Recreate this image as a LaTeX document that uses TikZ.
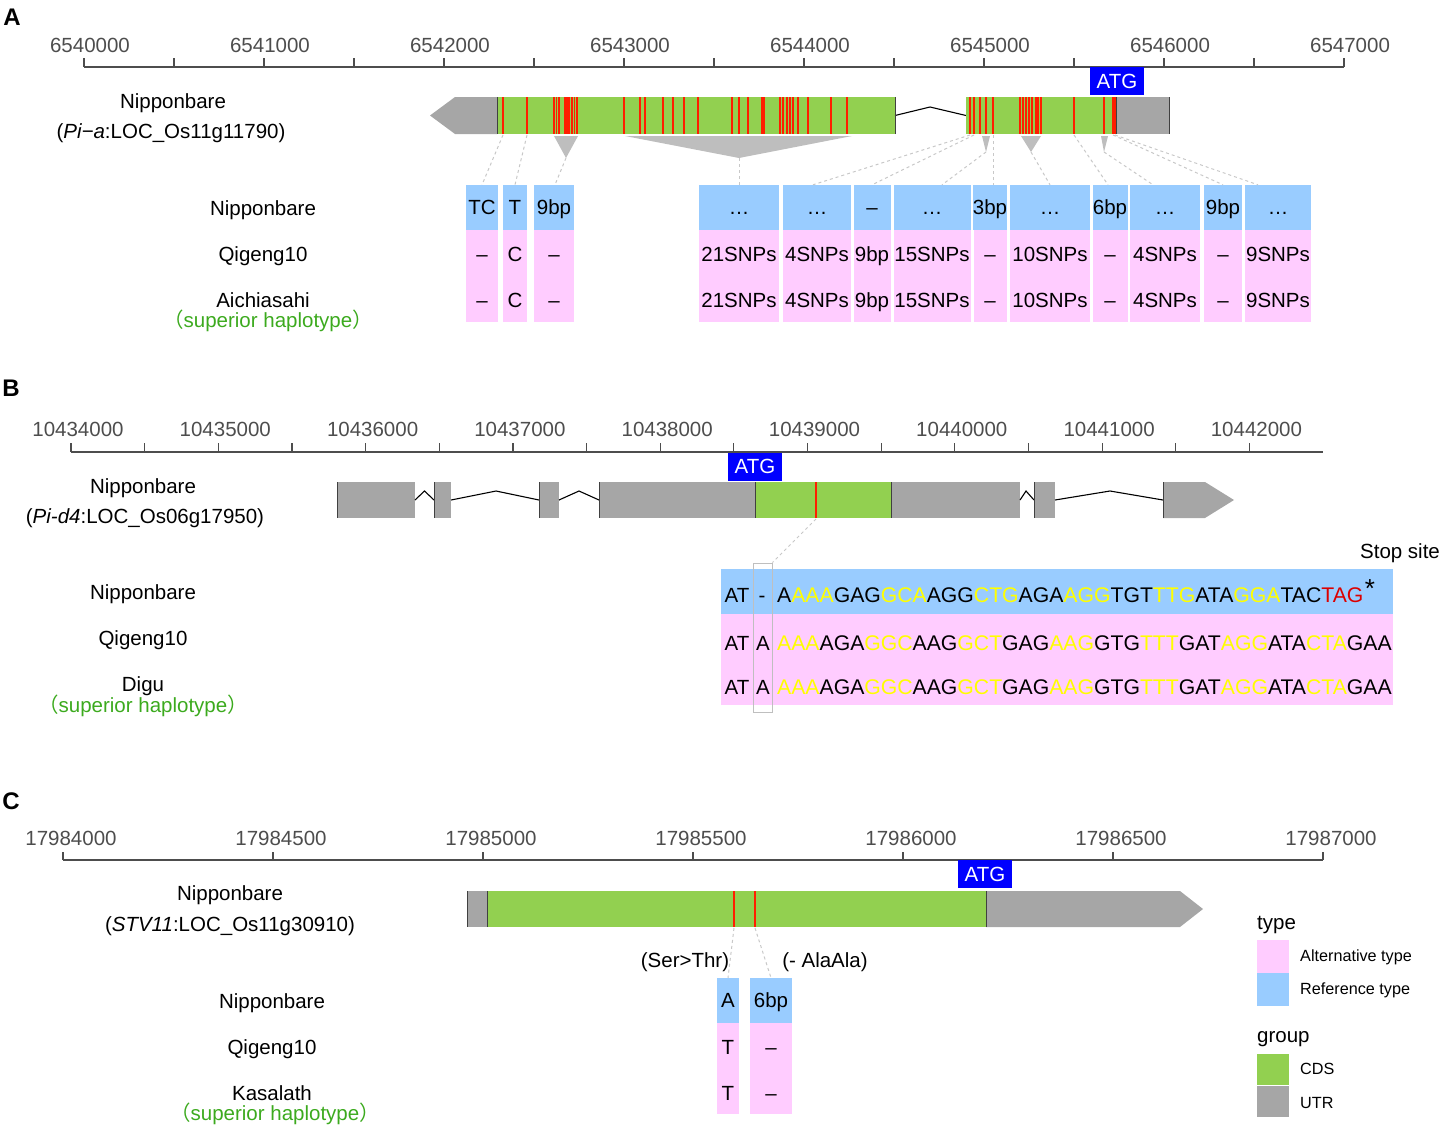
\documentclass[tikz,border=0pt]{standalone}
\usepackage{fontspec}
\setmainfont{Liberation Sans}
\newfontfamily\cjk{Noto Sans CJK SC}
\usepackage{tikz}
\definecolor{cdsgreen}{RGB}{146,208,80}
\definecolor{utrgrey}{RGB}{166,166,166}
\definecolor{refblue}{RGB}{153,204,255}
\definecolor{altpink}{RGB}{255,204,255}
\definecolor{atgblue}{RGB}{0,0,255}
\definecolor{snpred}{RGB}{255,30,0}
\definecolor{trigrey}{RGB}{190,190,190}
\definecolor{linkgrey}{RGB}{200,200,200}
\definecolor{axisgrey}{RGB}{77,77,77}
\definecolor{seqyellow}{RGB}{255,255,0}
\definecolor{stopred}{RGB}{220,0,0}
\definecolor{supgreen}{RGB}{60,170,30}
\newcommand{\ylw}[1]{\textcolor{seqyellow}{#1}}
\newcommand{\suphap}{{\cjk （}superior haplotype{\cjk ）}}

\begin{document}
\begin{tikzpicture}[x=1pt, y=-1pt, font=\fontsize{20.5}{24}\selectfont,
  lbl/.style={inner sep=0, text height=14.7pt, text depth=0pt},
  tlbl/.style={lbl, text=axisgrey},
  sup/.style={lbl, text=supgreen},
  seq/.style={lbl, anchor=west, font=\fontsize{21.2}{25}\selectfont},
  panel/.style={inner sep=0, font=\fontsize{24}{28}\selectfont\bfseries},
  axis/.style={axisgrey, line width=1.2},
  cds/.style={fill=cdsgreen},
  utr/.style={fill=utrgrey},
  intron/.style={black, line width=1.1},
  edge line/.style={black!75, line width=0.8},
  snp/.style={snpred, line width=1.2},
  tri/.style={fill=trigrey},
  link/.style={linkgrey, dashed, line width=1},
  atg/.style={fill=atgblue, text=white, minimum width=54, minimum height=28, inner sep=0, text height=14.7pt, text depth=0pt},
  refcell/.style={fill=refblue, inner sep=0, text height=14.7pt, text depth=0pt},
  altcell/.style={fill=altpink, inner sep=0},
  key/.style={inner sep=0, minimum width=32, minimum height=33, anchor=north west},
  keytext/.style={inner sep=0, anchor=west, font=\fontsize{16.2}{19}\selectfont}]
\useasboundingbox (0,0) rectangle (1442,1125);

% ---------------- Panel A ----------------
\node[panel] (pA) at (12,17) {A};

% Axis
\draw[axis] (84,67) -- (1344,67);
\foreach \k in {0,...,14} \draw[axis] ({84+90*\k},58) -- ({84+90*\k},67);
\foreach \k in {0,...,7} \node[tlbl] (ta\k) at ({90+180*\k},45) {\the\numexpr6540000+1000*\k\relax};

% Gene
\fill[utr] (430,115.5) -- (455,97) -- (497,97) -- (497,134) -- (455,134) -- cycle;
\fill[cds] (497,97) rectangle (895,134);
\draw[intron] (895,115.5) -- (930,107) -- (966,115.5);
\fill[cds] (966,97) rectangle (1116,134);
\fill[utr] (1116,97) rectangle (1169,134);
\foreach \x in {497,895,1116,1169} \draw[edge line] (\x,97) -- (\x,134);
\foreach \x in {503,527,554,556.5,559,565,567,569,572,574.5,577,624,640,645,663,673,684,698,732,739,748,762,764,780,783,787,790,793,798,808,831,847,
  970,974,980,986,993,1020,1023,1026,1029,1032,1036,1038,1041,1074,1104,1113,1115}
  \draw[snp] (\x,97) -- (\x,134);
\node[atg] (atgA) at (1117,81) {ATG};

\node[lbl] (nameA) at (173,101) {Nipponbare};
\node[lbl] (locA) at (171,131) {(\textit{Pi−a}:LOC\_Os11g11790)};

% Sites and triangles
\coordinate (pa1) at (503,135);
\coordinate (pa2) at (527,135);
\coordinate (pa3) at (566,158);
\coordinate (pa4) at (739,158);
\coordinate (pa5) at (970,135);
\coordinate (pa6) at (974,135);
\coordinate (pa7) at (986,152);
\coordinate (pa8) at (993,135);
\coordinate (pa9) at (1031,152);
\coordinate (pa10) at (1074,135);
\coordinate (pa11) at (1104,152);
\coordinate (pa12) at (1113,135);
\coordinate (pa13) at (1115,135);
\fill[tri] (554,136) -- (578,136) -- (pa3) -- cycle;
\fill[tri] (625,136) -- (852,136) -- (pa4) -- cycle;
\fill[tri] (982,136) -- (990,136) -- (pa7) -- cycle;
\fill[tri] (1021,136) -- (1041,136) -- (pa9) -- cycle;
\fill[tri] (1101,136) -- (1108,136) -- (pa11) -- cycle;

% Variant table
\foreach \x/\w/\r/\a [count=\i] in {482/32/TC/\textendash, 515/24/T/C, 554/40/9bp/\textendash,
  739/80/…/21SNPs, 817/68/…/4SNPs, 872/37/\textendash/9bp, 932/77/…/15SNPs, 990/33/3bp/\textendash,
  1050/80/…/10SNPs, 1110/35/6bp/\textendash, 1165/70/…/4SNPs, 1223/38/9bp/\textendash, 1278/66/…/9SNPs}
{
  \node[refcell, minimum width=\w, minimum height=45] (ra\i) at (\x,207.5) {\r};
  \node[altcell, minimum width=\w, minimum height=92] (aa\i) at (\x,276) {};
  \node[lbl] (qa\i) at (\x,254) {\a};
  \node[lbl] (ca\i) at (\x,300) {\a};
}
\foreach \i/\s in {1/0, 2/0, 3/1, 4/0, 5/-4, 6/0, 7/10, 8/3, 9/0, 10/-2, 11/-12, 12/0, 13/-20}
  \draw[link] (pa\i) -- ([xshift=\s]ra\i.north);

\node[lbl] (refA) at (263,208) {Nipponbare};
\node[lbl] (qgA) at (263,254) {Qigeng10};
\node[lbl] (supA) at (263,300) {Aichiasahi};
\node[sup] (hapA) at (268,320) {\suphap};

% ---------------- Panel B ----------------
\node[panel] (pB) at (11,388) {B};

% Axis
\draw[axis] (71,452) -- (1323,452);
\foreach \k in {0,...,16} \draw[axis] ({71+73.65*\k},443) -- ({71+73.65*\k},452);
\foreach \k in {0,...,8} \node[tlbl] (tb\k) at ({78+147.3*\k},429) {\the\numexpr10434000+1000*\k\relax};

% Gene
\fill[utr] (337,482) rectangle (415,518);
\draw[intron] (415,500) -- (424.5,491) -- (434,500);
\fill[utr] (434,482) rectangle (451,518);
\draw[intron] (451,500) -- (496,491) -- (539,500);
\fill[utr] (539,482) rectangle (559,518);
\draw[intron] (559,500) -- (579,491) -- (599,500);
\fill[utr] (599,482) rectangle (755,518);
\fill[cds] (755,482) rectangle (891,518);
\fill[utr] (891,482) rectangle (1020,518);
\draw[intron] (1020,500) -- (1026,491) -- (1034,500);
\fill[utr] (1034,482) rectangle (1055,518);
\draw[intron] (1055,500) -- (1110,491) -- (1163,500);
\fill[utr] (1163,482) -- (1205,482) -- (1234,500) -- (1205,518) -- (1163,518) -- cycle;
\draw[snp] (816,482) -- (816,518);
\foreach \x in {337,434,539,599,755,891,1034,1163} \draw[edge line] (\x,482) -- (\x,518);
\node[atg] (atgB) at (755,466.5) {ATG};

\node[lbl] (nameB) at (143,486) {Nipponbare};
\node[lbl] (locB) at (145,516) {(\textit{Pi-d4}:LOC\_Os06g17950)};

% Sequence alignment
\fill[refblue] (721,569) rectangle (1393,614);
\fill[altpink] (721,614) rectangle (1393,705);
\coordinate (pb1) at (816,519);
\node[draw=black!25, line width=0.9, inner sep=0, minimum width=19, minimum height=149] (insB) at (762.5,637.5) {};
\draw[link] (pb1) -- (insB.north east);

\node[lbl] (stopB) at (1400,551) {Stop site};
\node[lbl] (ra0) at (737,595) {AT};
\node[lbl] (ra1) at (762,595) {-};
\node[seq] (seqr) at (777,595) {A\ylw{AAA}GAG\ylw{GCA}AGG\ylw{CTG}AGA\ylw{AGG}TGT\ylw{TTG}ATA\ylw{GGA}TAC\textcolor{stopred}{TAG}};
\node[inner sep=0, anchor=west, font=\fontsize{26}{28}\selectfont] (star) at ([xshift=1,yshift=-1]seqr.north east) {*};
\node[lbl] (qb0) at (737,643) {AT};
\node[lbl] (qb1) at (763,643) {A};
\node[seq] (seqq) at (777,643) {\ylw{AAA}AGA\ylw{GGC}AAG\ylw{GCT}GAG\ylw{AAG}GTG\ylw{TTT}GAT\ylw{AGG}ATA\ylw{CTA}GAA};
\node[lbl] (db0) at (737,687) {AT};
\node[lbl] (db1) at (763,687) {A};
\node[seq] (seqd) at (777,687) {\ylw{AAA}AGA\ylw{GGC}AAG\ylw{GCT}GAG\ylw{AAG}GTG\ylw{TTT}GAT\ylw{AGG}ATA\ylw{CTA}GAA};

\node[lbl] (refB) at (143,592) {Nipponbare};
\node[lbl] (qgB) at (143,638) {Qigeng10};
\node[lbl] (supB) at (143,684) {Digu};
\node[sup] (hapB) at (143,705) {\suphap};

% ---------------- Panel C ----------------
\node[panel] (pC) at (11,801) {C};

% Axis
\draw[axis] (63,860) -- (1323,860);
\foreach \k in {0,...,6} {
  \draw[axis] ({63+210*\k},852) -- ({63+210*\k},860);
  \node[tlbl] (tc\k) at ({71+210*\k},838) {\the\numexpr17984000+500*\k\relax};
}

% Gene
\fill[utr] (467,891) rectangle (487,927);
\fill[cds] (487,891) rectangle (986,927);
\fill[utr] (986,891) -- (1180,891) -- (1203,909) -- (1180,927) -- (986,927) -- cycle;
\foreach \x in {467,487,986} \draw[edge line] (\x,891) -- (\x,927);
\foreach \x in {734,755} \draw[snp] (\x,891) -- (\x,927);
\node[atg] (atgC) at (985,874) {ATG};

\node[lbl] (nameC) at (230,893) {Nipponbare};
\node[lbl] (locC) at (230,924) {(\textit{STV11}:LOC\_Os11g30910)};

% Variant table
\coordinate (pc1) at (734,928);
\coordinate (pc2) at (755,928);
\foreach \x/\w/\r/\a [count=\i] in {728/22/A/T, 771/42/6bp/\textendash}
{
  \node[refcell, minimum width=\w, minimum height=45] (rc\i) at (\x,1000.5) {\r};
  \node[altcell, minimum width=\w, minimum height=91] (ac\i) at (\x,1068.5) {};
  \node[lbl] (qc\i) at (\x,1047) {\a};
  \node[lbl] (kc\i) at (\x,1093) {\a};
  \draw[link] (pc\i) -- (rc\i.north);
}
\node[lbl] (serC) at (685,960) {(Ser>Thr)};
\node[lbl] (alaC) at (825,960) {(- AlaAla)};

\node[lbl] (refC) at (272,1001) {Nipponbare};
\node[lbl] (qgC) at (272,1047) {Qigeng10};
\node[lbl] (supC) at (272,1093) {Kasalath};
\node[sup] (hapC) at (275,1113) {\suphap};

% Legend
\node[lbl, anchor=west] (typ) at (1257,922) {type};
\node[key, fill=altpink] (kalt) at (1257,940) {};
\node[key, fill=refblue] (kref) at (1257,973) {};
\node[keytext] (talt) at (1300,957) {Alternative type};
\node[keytext] (tref) at (1300,990) {Reference type};
\node[lbl, anchor=west] (grp) at (1257,1035) {group};
\node[key, fill=cdsgreen, minimum height=31] (kcds) at (1257,1054) {};
\node[key, fill=utrgrey, minimum height=31] (kutr) at (1257,1086) {};
\node[keytext] (tcds) at (1300,1069) {CDS};
\node[keytext] (tutr) at (1300,1103) {UTR};
\end{tikzpicture}
\end{document}
